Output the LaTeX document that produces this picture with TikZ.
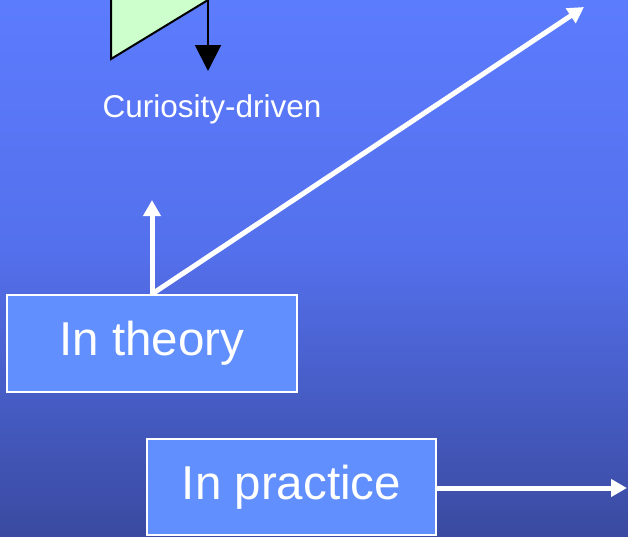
\documentclass[tikz,border=0pt]{standalone}
\usepackage{fontspec}
\setmainfont{Liberation Sans}
\usetikzlibrary{arrows.meta}
\definecolor{bgtop}{RGB}{92,124,254}
\definecolor{bgmid}{RGB}{84,112,236}
\definecolor{bgbot}{RGB}{58,74,160}
\definecolor{boxfill}{RGB}{97,143,254}
\definecolor{greenfill}{RGB}{204,255,204}
\tikzset{
  labelbox/.style={draw=white, line width=2pt, fill=boxfill, text=white,
    minimum width=#1, minimum height=96pt, inner sep=0pt,
    font=\fontsize{47.5}{56}\selectfont},
  whitearrow/.style={draw=white, line width=5pt,
    -{Triangle[width=17pt,length=16pt]}},
  blackarrow/.style={draw=black, line width=2pt,
    -{Triangle[width=26pt,length=26pt]}}
}
\begin{document}
\begin{tikzpicture}[x=1pt,y=-1pt]
\useasboundingbox (0,0) rectangle (628,536);
\shade[top color=bgtop, bottom color=bgmid] (0,0) rectangle (628,250.5);
\shade[top color=bgmid, bottom color=bgbot] (0,250) rectangle (628,536);
\begin{scope}
  \clip (0,0) rectangle (628,536);
  \filldraw[fill=greenfill, draw=black, line width=2pt]
    (111,-10) -- (111,59) -- (208,0) -- (208,-10) -- cycle;
  \coordinate (gtop) at (208,-5);
  \coordinate (gtip) at (208,71);
  \draw[blackarrow] (gtop) -- (gtip);
\end{scope}
\node[anchor=base, text=white, font=\fontsize{31.5}{38}\selectfont, inner sep=0pt]
  (curiosity) at (212,117) {Curiosity-driven};
\node[labelbox=290pt, minimum height=97pt] (theory) at (152,343.5) {In theory};
\node[labelbox=289pt] (practice) at (291.5,487) {In practice};
\coordinate (upend) at (152,200);
\coordinate (diagend) at (584,7);
\coordinate (rightend) at (627,488);
\draw[whitearrow] (theory.north) -- (upend);
\draw[whitearrow] (theory.north) -- (diagend);
\draw[whitearrow] (practice.east |- rightend) -- (rightend);
\end{tikzpicture}
\end{document}
